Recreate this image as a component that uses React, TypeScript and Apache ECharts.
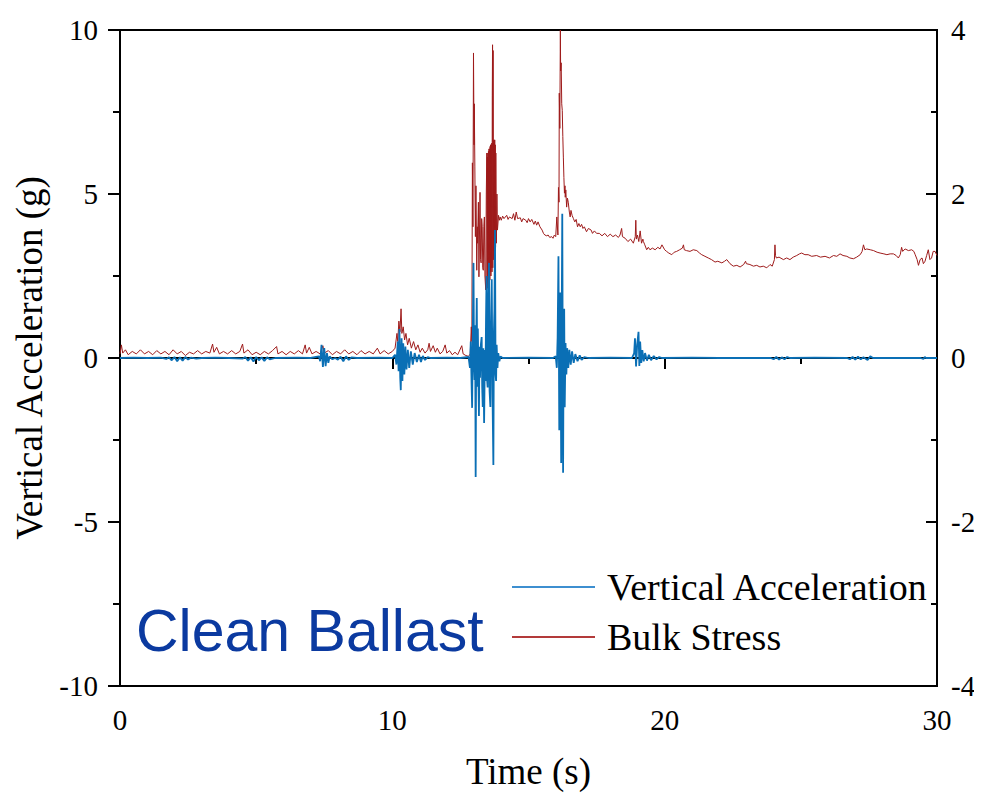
import React, { useEffect, useRef } from "react";
import * as echarts from "echarts";

// Time (s), vertical acceleration (g)
const accelPoints: [number, number][] = [
  [0, 0], [0.5, 0.01], [1.0, 0], [1.5, 0.01], [1.7, -0.03], [1.8, 0.02], [1.9, -0.07], [2.0, 0.03], [2.1, -0.1],
  [2.2, 0.02], [2.3, -0.08], [2.4, 0.03], [2.5, -0.05], [2.6, 0.01], [2.8, -0.02], [3.0, 0], [3.5, 0.01], [4.0, 0],
  [4.5, -0.02], [4.6, 0.03], [4.7, -0.08], [4.8, 0.02], [4.9, -0.11], [5.0, 0.03], [5.1, -0.07], [5.2, 0.02],
  [5.3, -0.09], [5.4, 0.02], [5.5, -0.04], [5.7, 0], [6.5, 0.01], [7.0, 0], [7.3, 0.05], [7.35, -0.1], [7.4, 0.4],
  [7.45, -0.27], [7.5, 0.3], [7.55, -0.25], [7.6, 0.15], [7.65, -0.15], [7.7, 0.05], [7.8, -0.04], [7.9, 0],
  [8.0, -0.05], [8.1, 0.04], [8.2, -0.1], [8.3, 0.05], [8.4, -0.06], [8.5, 0.02], [8.7, 0], [9.5, 0.01], [10.0, 0],
  [10.1, 0.1], [10.15, -0.2], [10.2, 0.5], [10.23, -0.4], [10.26, 0.88], [10.29, -0.6], [10.31, -0.98], [10.34, 0.6],
  [10.37, -0.7], [10.4, 0.45], [10.44, -0.5], [10.48, 0.35], [10.52, -0.35], [10.57, 0.25], [10.62, -0.3],
  [10.68, 0.2], [10.75, -0.2], [10.82, 0.15], [10.9, -0.12], [10.98, 0.1], [11.05, -0.12], [11.12, 0.06],
  [11.2, -0.06], [11.3, 0.03], [11.4, 0], [12.0, 0.01], [12.5, 0], [12.8, 0.03], [12.85, -0.3], [12.88, 0.5],
  [12.91, -0.8], [12.93, -1.52], [12.96, 1.2], [12.98, 2.9], [13.0, -0.2], [13.02, -0.67], [13.04, 1.0],
  [13.06, -3.63], [13.08, 0.5], [13.1, 1.83], [13.12, -0.88], [13.14, 0.9], [13.16, -0.5], [13.18, -1.77],
  [13.2, 0.34], [13.22, -0.6], [13.25, 0.4], [13.28, 0.64], [13.3, -0.9], [13.32, -1.49], [13.34, 0.3],
  [13.37, -1.98], [13.4, 0.24], [13.42, -0.7], [13.44, 1.2], [13.46, 2.5], [13.48, -0.67], [13.5, -0.9],
  [13.52, 1.5], [13.55, 2.9], [13.57, -1.0], [13.6, -1.49], [13.62, 0.8], [13.65, 2.4], [13.68, -1.2],
  [13.71, -3.26], [13.73, 0.8], [13.75, 1.5], [13.77, 3.9], [13.79, -0.5], [13.81, -0.7], [13.83, 0.4],
  [13.86, -0.3], [13.89, 0.15], [13.93, -0.1], [13.97, 0.05], [14.05, 0], [15.0, 0.01], [15.9, 0], [16.0, 0.05],
  [16.04, -0.3], [16.07, 0.64], [16.1, 3.1], [16.13, -2.2], [16.15, 1.0], [16.17, 2.0], [16.2, -3.2], [16.22, 1.2],
  [16.24, 4.4], [16.27, -3.5], [16.29, 0.5], [16.31, 1.5], [16.33, -1.5], [16.36, 0.46], [16.39, -0.5],
  [16.42, 0.3], [16.46, -0.3], [16.5, 0.25], [16.55, -0.2], [16.6, 0.2], [16.66, -0.15], [16.72, 0.12],
  [16.8, -0.1], [16.88, 0.08], [16.95, -0.06], [17.05, 0.03], [17.2, 0], [18.0, 0.01], [18.8, 0], [18.88, 0.15],
  [18.91, 0.6], [18.95, -0.26], [18.99, 0.4], [19.04, 0.8], [19.07, -0.24], [19.1, 0.5], [19.14, -0.15],
  [19.18, 0.24], [19.23, -0.1], [19.28, 0.15], [19.35, -0.08], [19.42, 0.1], [19.5, -0.07], [19.6, 0.06],
  [19.7, -0.04], [19.8, 0.03], [19.9, 0], [21.0, 0.01], [22.0, 0], [23.9, 0], [24.0, -0.04], [24.1, 0.03],
  [24.2, -0.05], [24.3, 0.02], [24.4, -0.04], [24.5, 0.03], [24.6, 0], [25.5, 0.01], [26.7, 0], [26.8, -0.04],
  [26.9, 0.03], [27.0, -0.05], [27.1, 0.04], [27.2, -0.04], [27.3, 0.02], [27.45, -0.06], [27.55, 0.05],
  [27.65, 0], [29.4, 0], [29.5, -0.03], [29.55, 0.03], [29.6, 0], [30, 0],
];

// Time (s), bulk stress (right axis)
const stressPoints: [number, number][] = [
  [0, 0.05], [0.05, 0.16], [0.1, 0.06], [0.2, 0.1], [0.3, 0.04], [0.45, 0.08], [0.6, 0.05], [0.75, 0.1],
  [0.9, 0.05], [1.05, 0.08], [1.2, 0.04], [1.35, 0.09], [1.5, 0.05], [1.65, 0.08], [1.8, 0.04], [1.95, 0.1],
  [2.1, 0.05], [2.25, 0.08], [2.4, 0.03], [2.55, 0.07], [2.7, 0.05], [2.85, 0.09], [3.0, 0.05], [3.15, 0.08],
  [3.3, 0.06], [3.4, 0.17], [3.45, 0.07], [3.55, 0.13], [3.65, 0.05], [3.8, 0.08], [3.95, 0.05], [4.1, 0.09],
  [4.25, 0.05], [4.4, 0.08], [4.5, 0.17], [4.55, 0.06], [4.7, 0.1], [4.85, 0.04], [5.0, 0.07], [5.15, 0.04],
  [5.3, 0.08], [5.45, 0.05], [5.6, 0.09], [5.75, 0.14], [5.8, 0.05], [5.95, 0.08], [6.1, 0.04], [6.25, 0.08],
  [6.4, 0.05], [6.55, 0.09], [6.7, 0.05], [6.8, 0.16], [6.85, 0.06], [6.95, 0.13], [7.05, 0.05], [7.2, 0.08],
  [7.35, 0.05], [7.45, 0.15], [7.5, 0.06], [7.65, 0.09], [7.8, 0.04], [7.95, 0.08], [8.1, 0.05], [8.25, 0.1],
  [8.4, 0.05], [8.55, 0.08], [8.7, 0.04], [8.85, 0.09], [9.0, 0.05], [9.15, 0.08], [9.3, 0.05], [9.45, 0.12],
  [9.55, 0.05], [9.7, 0.09], [9.85, 0.05], [10.0, 0.08], [10.1, 0.12], [10.17, 0.3], [10.2, 0.2], [10.24, 0.45],
  [10.28, 0.32], [10.32, 0.6], [10.35, 0.3], [10.4, 0.38], [10.45, 0.22], [10.5, 0.3], [10.56, 0.16],
  [10.62, 0.24], [10.7, 0.12], [10.78, 0.2], [10.86, 0.1], [10.94, 0.16], [11.02, 0.07], [11.1, 0.12],
  [11.2, 0.06], [11.3, 0.1], [11.35, 0.18], [11.4, 0.08], [11.5, 0.15], [11.58, 0.07], [11.65, 0.12],
  [11.75, 0.05], [11.85, 0.08], [11.94, 0.16], [12.0, 0.06], [12.1, 0.09], [12.2, 0.04], [12.3, 0.07],
  [12.4, 0.04], [12.55, 0.15], [12.6, 0.05], [12.7, 0.03], [12.8, 0.02], [12.86, 0.05], [12.9, 0.38],
  [12.92, 0.2], [12.94, 2.38], [12.96, 1.6], [12.98, 3.72], [13.0, 2.6], [13.01, 3.1], [13.03, 2.33],
  [13.05, 1.48], [13.07, 2.1], [13.1, 1.07], [13.12, 1.6], [13.13, 1.4], [13.16, 1.9], [13.18, 0.99], [13.2, 1.5],
  [13.22, 2.02], [13.24, 1.2], [13.26, 1.16], [13.28, 1.7], [13.3, 1.6], [13.32, 1.1], [13.34, 1.07],
  [13.36, 1.6], [13.38, 1.72], [13.4, 1.0], [13.43, 0.83], [13.45, 2.0], [13.47, 2.5], [13.48, 0.9],
  [13.49, 2.45], [13.5, 0.85], [13.51, 2.5], [13.52, 0.95], [13.53, 2.52], [13.54, 0.9], [13.55, 2.55],
  [13.56, 1.0], [13.57, 2.55], [13.58, 0.95], [13.59, 2.58], [13.6, 1.05], [13.61, 2.6], [13.62, 1.0],
  [13.63, 2.6], [13.64, 1.1], [13.65, 2.62], [13.66, 1.05], [13.67, 3.2], [13.68, 3.82], [13.69, 1.1],
  [13.7, 3.75], [13.71, 1.2], [13.72, 2.65], [13.73, 1.2], [13.74, 2.66], [13.75, 1.25], [13.76, 2.66],
  [13.77, 1.3], [13.78, 2.6], [13.79, 1.35], [13.8, 2.5], [13.82, 1.4], [13.84, 2.0], [13.86, 1.56],
  [13.9, 1.74], [13.93, 1.68], [13.96, 1.72], [14.0, 1.68], [14.05, 1.73], [14.1, 1.7], [14.2, 1.74],
  [14.25, 1.69], [14.3, 1.72], [14.4, 1.7], [14.45, 1.76], [14.5, 1.68], [14.55, 1.78], [14.6, 1.7],
  [14.7, 1.71], [14.75, 1.66], [14.8, 1.7], [14.9, 1.68], [14.95, 1.65], [15.0, 1.7], [15.06, 1.66],
  [15.12, 1.69], [15.2, 1.63], [15.25, 1.67], [15.3, 1.62], [15.35, 1.66], [15.42, 1.6], [15.5, 1.56],
  [15.55, 1.52], [15.6, 1.5], [15.67, 1.49], [15.72, 1.5], [15.78, 1.47], [15.85, 1.48], [15.9, 1.46],
  [15.95, 1.5], [16.0, 1.48], [16.04, 1.72], [16.08, 1.5], [16.1, 2.08], [16.12, 1.9], [16.13, 3.23],
  [16.15, 2.8], [16.17, 4.0], [16.18, 3.5], [16.2, 3.6], [16.22, 3.1], [16.24, 3.02], [16.26, 2.7],
  [16.28, 2.45], [16.3, 2.2], [16.32, 2.01], [16.34, 2.1], [16.35, 1.96], [16.37, 2.05], [16.4, 1.84],
  [16.43, 1.95], [16.46, 1.9], [16.5, 1.78], [16.53, 1.72], [16.56, 1.8], [16.6, 1.74], [16.65, 1.7],
  [16.7, 1.66], [16.75, 1.69], [16.8, 1.6], [16.85, 1.64], [16.9, 1.6], [16.95, 1.63], [17.0, 1.58],
  [17.05, 1.6], [17.13, 1.54], [17.2, 1.58], [17.3, 1.56], [17.35, 1.52], [17.42, 1.55], [17.5, 1.52],
  [17.6, 1.52], [17.7, 1.49], [17.8, 1.52], [17.9, 1.48], [18.0, 1.51], [18.1, 1.48], [18.2, 1.5],
  [18.3, 1.47], [18.36, 1.5], [18.42, 1.58], [18.45, 1.48], [18.55, 1.46], [18.65, 1.42], [18.75, 1.45],
  [18.85, 1.4], [18.92, 1.48], [18.94, 1.68], [18.96, 1.45], [19.0, 1.5], [19.05, 1.42], [19.1, 1.55],
  [19.15, 1.4], [19.2, 1.45], [19.22, 1.42], [19.27, 1.38], [19.34, 1.32], [19.4, 1.35], [19.46, 1.32],
  [19.55, 1.34], [19.65, 1.32], [19.75, 1.35], [19.83, 1.33], [19.9, 1.38], [20.0, 1.32], [20.07, 1.3],
  [20.15, 1.28], [20.26, 1.26], [20.35, 1.29], [20.44, 1.3], [20.55, 1.32], [20.65, 1.34], [20.69, 1.38],
  [20.72, 1.32], [20.8, 1.31], [20.93, 1.3], [21.05, 1.32], [21.18, 1.31], [21.28, 1.28], [21.36, 1.26],
  [21.48, 1.24], [21.6, 1.22], [21.72, 1.2], [21.85, 1.17], [21.95, 1.18], [22.1, 1.16], [22.2, 1.18],
  [22.28, 1.2], [22.4, 1.15], [22.52, 1.12], [22.65, 1.13], [22.77, 1.11], [22.9, 1.14], [22.97, 1.18],
  [23.0, 1.15], [23.13, 1.14], [23.26, 1.12], [23.38, 1.13], [23.5, 1.11], [23.62, 1.12], [23.75, 1.1],
  [23.87, 1.14], [23.95, 1.12], [24.03, 1.2], [24.05, 1.38], [24.07, 1.25], [24.1, 1.22], [24.2, 1.23],
  [24.36, 1.2], [24.48, 1.22], [24.6, 1.2], [24.72, 1.23], [24.85, 1.25], [24.95, 1.27], [25.03, 1.28],
  [25.15, 1.26], [25.27, 1.26], [25.4, 1.24], [25.58, 1.25], [25.72, 1.23], [25.89, 1.24], [26.05, 1.22],
  [26.2, 1.25], [26.32, 1.24], [26.44, 1.27], [26.55, 1.25], [26.69, 1.24], [26.8, 1.22], [26.93, 1.21],
  [27.05, 1.23], [27.18, 1.26], [27.25, 1.3], [27.3, 1.38], [27.35, 1.32], [27.42, 1.33], [27.55, 1.32],
  [27.67, 1.31], [27.8, 1.29], [27.91, 1.28], [28.05, 1.27], [28.16, 1.26], [28.28, 1.27], [28.4, 1.27],
  [28.5, 1.25], [28.58, 1.22], [28.65, 1.26], [28.7, 1.35], [28.74, 1.3], [28.83, 1.33], [28.95, 1.31],
  [29.07, 1.32], [29.15, 1.3], [29.2, 1.26], [29.27, 1.2], [29.32, 1.13], [29.38, 1.2], [29.45, 1.22],
  [29.5, 1.15], [29.56, 1.18], [29.62, 1.25], [29.68, 1.32], [29.74, 1.2], [29.8, 1.22], [29.86, 1.3],
  [29.93, 1.3], [30, 1.25],
];

const seriesNames = ["Vertical Acceleration", "Bulk Stress"];
const annotation = "Clean Ballast";

const SERIF = "Liberation Serif";
const SANS = "Liberation Sans";

export default function App() {
  const ref = useRef<HTMLDivElement>(null);
  useEffect(() => {
    if (!ref.current) return;
    const chart = echarts.init(ref.current, null, { renderer: "svg" });
    const axisLine = { show: true, lineStyle: { color: "#000", width: 2 } };
    const tickLabel = { fontFamily: SERIF, fontSize: 29, color: "#000" };
    chart.setOption({
      animation: false,
      backgroundColor: "#fff",
      textStyle: { fontFamily: SERIF },
      grid: { left: 120, right: 45, top: 30, bottom: 115, show: true, borderColor: "#000", borderWidth: 2 },
      legend: {
        show: true,
        left: 512,
        top: 568,
        padding: 0,
        orient: "vertical",
        data: seriesNames,
        icon: "rect",
        itemWidth: 83,
        itemHeight: 2,
        itemGap: 12,
        textStyle: { fontFamily: SERIF, fontSize: 38, color: "#000", padding: [0, 0, 0, 7] },
      },
      xAxis: {
        type: "value",
        min: 0,
        max: 30,
        interval: 10,
        name: "Time (s)",
        nameLocation: "middle",
        nameGap: 67,
        nameTextStyle: { fontFamily: SERIF, fontSize: 37, color: "#000" },
        axisLine,
        axisTick: { show: true, length: 11, lineStyle: { color: "#000", width: 2 } },
        minorTick: { show: true, splitNumber: 2, length: 6, lineStyle: { color: "#000", width: 2 } },
        splitLine: { show: false },
        axisLabel: { ...tickLabel, margin: 19 },
      },
      yAxis: [
        {
          type: "value",
          min: -10,
          max: 10,
          interval: 5,
          position: "left",
          name: "Vertical Acceleration (g)",
          nameLocation: "middle",
          nameGap: 66,
          nameTextStyle: { fontFamily: SERIF, fontSize: 37, color: "#000" },
          axisLine,
          axisTick: { show: true, length: 12, lineStyle: { color: "#000", width: 2 } },
          minorTick: { show: true, splitNumber: 2, length: 7, lineStyle: { color: "#000", width: 2 } },
          splitLine: { show: false },
          axisLabel: { ...tickLabel, margin: 22 },
        },
        {
          type: "value",
          min: -4,
          max: 4,
          interval: 2,
          position: "right",
          axisLine,
          axisTick: { show: true, inside: true, length: 11, lineStyle: { color: "#000", width: 2 } },
          minorTick: { show: true, splitNumber: 2, length: 6, lineStyle: { color: "#000", width: 2 } },
          splitLine: { show: false },
          axisLabel: { ...tickLabel, margin: 14 },
        },
      ],
      graphic: [
        {
          type: "text",
          left: 136,
          top: 601,
          style: { text: annotation, fontFamily: SANS, fontSize: 59, fill: "#0b3aa0" },
          z: 10,
        },
      ],
      series: [
        {
          name: seriesNames[1],
          type: "line",
          yAxisIndex: 1,
          data: stressPoints,
          showSymbol: false,
          symbol: "none",
          lineStyle: { color: "#9e1b1b", width: 1 },
          itemStyle: { color: "#b33a3a" },
          z: 2,
        },
        {
          name: seriesNames[0],
          type: "line",
          yAxisIndex: 0,
          data: accelPoints,
          showSymbol: false,
          symbol: "none",
          lineStyle: { color: "#0a6fb5", width: 1.8 },
          itemStyle: { color: "#3d8fd0" },
          z: 3,
        },
      ],
    });
    return () => chart.dispose();
  }, []);
  return <div ref={ref} style={{ width: 982, height: 801, margin: -8 }} />;
}
